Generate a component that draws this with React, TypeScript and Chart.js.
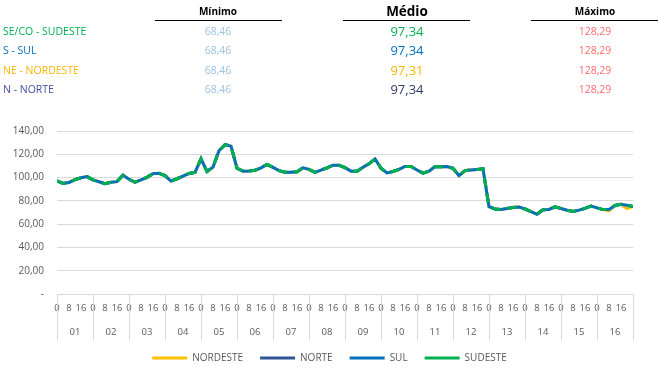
import React, { useEffect, useRef } from 'react';
import { Chart, registerables } from 'chart.js';

Chart.register(...registerables);

// ---- Data ----
const DAYS = ['01', '02', '03', '04', '05', '06', '07', '08', '09', '10', '11', '12', '13', '14', '15', '16'];
const HOUR_LABELS = [0, 8, 16];
const HOURS_PER_DAY = 24;
const STEP_HOURS = 4;

const SUDESTE = [
  97.2, 95.0, 95.8, 98.2, 99.8, 100.8,
  98.0, 96.4, 94.8, 96.0, 96.5, 102.0,
  98.5, 96.0, 98.0, 100.2, 103.4, 103.7,
  101.7, 97.0, 99.0, 101.2, 103.5, 104.5,
  116.0, 105.2, 109.0, 123.0, 128.29, 127.0,
  108.0, 105.5, 105.7, 106.3, 108.4, 111.3,
  108.8, 106.0, 104.6, 104.6, 105.0, 108.4,
  107.0, 104.5, 106.4, 108.3, 110.6, 110.5,
  108.5, 105.5, 105.5, 108.8, 111.8, 116.0,
  108.0, 104.0, 105.2, 107.0, 109.5, 109.5,
  106.5, 103.8, 105.5, 109.5, 109.3, 109.5,
  108.0, 101.7, 106.0, 106.6, 107.0, 107.5,
  75.0, 73.0, 72.5, 73.5, 74.2, 74.8,
  73.0, 70.8, 68.46, 72.3, 72.6, 74.8,
  73.4, 72.0, 70.8, 72.0, 73.5, 75.5,
  74.0, 72.5, 72.5, 76.0, 77.0, 76.3,
  75.2,
];
const SUL = [
  97.2, 95.0, 95.8, 98.2, 99.8, 100.8,
  98.0, 96.4, 94.8, 96.0, 96.5, 102.0,
  98.5, 96.0, 98.0, 100.2, 103.4, 103.7,
  101.7, 97.0, 99.0, 101.2, 103.5, 104.5,
  116.0, 105.2, 109.0, 123.0, 128.29, 127.0,
  108.0, 105.5, 105.7, 106.3, 108.4, 111.3,
  108.8, 106.0, 104.6, 104.6, 105.0, 108.4,
  107.0, 104.5, 106.4, 108.3, 110.6, 110.5,
  108.5, 105.5, 105.5, 108.8, 111.8, 116.0,
  108.0, 104.0, 105.2, 107.0, 109.5, 109.5,
  106.5, 103.8, 105.5, 109.5, 109.3, 109.5,
  108.0, 101.7, 106.0, 106.6, 107.0, 107.5,
  75.0, 73.0, 72.5, 73.5, 74.2, 74.8,
  73.0, 70.8, 68.46, 72.3, 72.6, 74.8,
  73.4, 72.0, 70.8, 72.0, 73.5, 75.5,
  74.0, 72.5, 72.5, 76.0, 77.0, 76.3,
  75.2,
];
const NORTE = [
  97.2, 95.0, 95.8, 98.2, 99.8, 100.8,
  98.0, 96.4, 94.8, 96.0, 96.5, 102.0,
  98.5, 96.0, 98.0, 100.2, 103.4, 103.7,
  101.7, 97.0, 99.0, 101.2, 103.5, 104.5,
  116.0, 105.2, 109.0, 123.0, 128.29, 127.0,
  108.0, 105.5, 105.7, 106.3, 108.4, 111.3,
  108.8, 106.0, 104.6, 104.6, 105.0, 108.4,
  107.0, 104.5, 106.4, 108.3, 110.6, 110.5,
  108.5, 105.5, 105.5, 108.8, 111.8, 116.0,
  108.0, 104.0, 105.2, 107.0, 109.5, 109.5,
  106.5, 103.8, 105.5, 109.5, 109.3, 109.5,
  108.0, 101.7, 106.0, 106.6, 107.0, 107.5,
  75.0, 73.0, 72.5, 73.5, 74.2, 74.8,
  73.0, 70.8, 68.46, 72.3, 72.6, 74.8,
  73.4, 72.0, 70.8, 72.0, 73.5, 75.5,
  74.0, 72.5, 72.5, 76.0, 77.0, 76.3,
  75.2,
];
const NORDESTE = [
  97.2, 95.0, 95.8, 98.2, 99.8, 100.8,
  98.0, 96.4, 94.8, 96.0, 96.5, 102.0,
  98.5, 96.0, 98.0, 100.2, 103.4, 103.7,
  101.7, 97.0, 99.0, 101.2, 103.5, 104.5,
  116.0, 105.2, 109.0, 123.0, 128.29, 127.0,
  108.0, 105.5, 105.7, 106.3, 108.4, 111.3,
  108.8, 106.0, 104.6, 104.6, 105.0, 108.4,
  107.0, 104.5, 106.4, 108.3, 110.6, 110.5,
  108.5, 105.5, 105.5, 108.8, 111.8, 116.0,
  108.0, 104.0, 105.2, 107.0, 109.5, 109.5,
  106.5, 103.8, 105.5, 109.5, 109.3, 109.5,
  108.0, 101.7, 106.0, 106.6, 107.0, 107.5,
  75.0, 73.0, 72.5, 73.5, 74.2, 74.8,
  73.0, 70.8, 68.46, 72.3, 72.6, 74.8,
  73.4, 72.0, 70.8, 72.0, 73.5, 75.5,
  74.0, 72.5, 71.4, 76.0, 77.0, 73.4,
  75.2,
];

// Summary table (as printed above the chart)
const REGION_LABELS = ['SE/CO - SUDESTE', 'S - SUL', 'NE - NORDESTE', 'N - NORTE'];
const MIN_VALUES = ['68,46', '68,46', '68,46', '68,46'];
const MEAN_VALUES = ['97,34', '97,34', '97,31', '97,34'];
const MAX_VALUES = ['128,29', '128,29', '128,29', '128,29'];
const TABLE_HEADERS = ['Mínimo', 'Médio', 'Máximo'];

// ---- Styles ----
const FONT = '"Open Sans", "Noto Sans", sans-serif';
const AXIS_TEXT = '#595959';
const GRID = '#D9D9D9';
const REGION_COLORS = ['#00B050', '#0070C0', '#F5B700', '#44509E'];
const MEAN_COLORS = ['#00B050', '#0070C0', '#F5B700', '#2F3B66'];
const MIN_COLOR = '#9DC3E6';
const MAX_COLOR = '#FF6B6B';
const TABLE_ROWS_Y = [31, 49.5, 69.5, 88.8];
const COLUMN_CENTERS = [218, 407, 595];
const UNDERLINES = [[155, 282], [343, 470], [531, 658]];

const toPoints = (values: number[]) => values.map((v, i) => ({ x: i * STEP_HOURS, y: v }));
const fmt = (v: number) => (v === 0 ? '-' : v.toFixed(2).replace('.', ','));

// Day group labels and separators under the hour ticks (multi-level category look)
const dayGroups = {
  id: 'dayGroups',
  afterDraw(chart: any) {
    const { ctx, chartArea, scales } = chart;
    const xs = scales.x;
    ctx.save();
    ctx.strokeStyle = GRID;
    ctx.lineWidth = 1;
    for (let i = 0; i <= DAYS.length; i++) {
      const px = Math.round(xs.getPixelForValue(i * HOURS_PER_DAY)) + 0.5;
      ctx.beginPath();
      ctx.moveTo(px, chartArea.bottom);
      ctx.lineTo(px, chartArea.bottom + 46);
      ctx.stroke();
    }
    ctx.fillStyle = AXIS_TEXT;
    ctx.font = `9.5px ${FONT}`;
    ctx.textAlign = 'center';
    ctx.textBaseline = 'middle';
    DAYS.forEach((d, i) => {
      const cx = xs.getPixelForValue(i * HOURS_PER_DAY + HOURS_PER_DAY / 2);
      ctx.fillText(d, cx, chartArea.bottom + 38);
    });
    ctx.restore();
  },
};

export default function App() {
  const canvasRef = useRef<HTMLCanvasElement | null>(null);

  useEffect(() => {
    if (!canvasRef.current) return;
    const maxHour = DAYS.length * HOURS_PER_DAY;
    const hourTicks = DAYS.flatMap((_, d) => HOUR_LABELS.map((h) => d * HOURS_PER_DAY + h));

    const base = { pointRadius: 0, pointHoverRadius: 0, borderWidth: 3, tension: 0, fill: false, borderCapStyle: 'butt' as const };

    const chart = new Chart(canvasRef.current, {
      type: 'line',
      data: {
        datasets: [
          { ...base, label: 'NORDESTE', data: toPoints(NORDESTE), borderColor: '#FFC000', backgroundColor: '#FFC000', order: 4 },
          { ...base, label: 'NORTE', data: toPoints(NORTE), borderColor: '#2F5597', backgroundColor: '#2F5597', borderDash: [9, 7], order: 3 },
          { ...base, label: 'SUL', data: toPoints(SUL), borderColor: '#0070C0', backgroundColor: '#0070C0', order: 2 },
          { ...base, label: 'SUDESTE', data: toPoints(SUDESTE), borderColor: '#00B050', backgroundColor: '#00B050', borderDash: [9, 7], order: 1 },
        ],
      },
      options: {
        animation: false,
        responsive: false,
        devicePixelRatio: 1,
        events: [],
        layout: { padding: { top: 131, left: 0, right: 0, bottom: 1 } },
        font: { family: FONT },
        scales: {
          x: {
            type: 'linear',
            min: 0,
            max: maxHour,
            position: 'bottom',
            afterBuildTicks: (s: any) => { s.ticks = hourTicks.map((v) => ({ value: v })); },
            afterFit: (s: any) => { s.height = 42; },
            ticks: {
              autoSkip: false,
              maxRotation: 0,
              padding: 9,
              color: AXIS_TEXT,
              font: { family: FONT, size: 9.5 },
              callback: (v: any) => String(Number(v) % HOURS_PER_DAY),
            },
            grid: { display: false, drawTicks: false },
            border: { display: false },
          },
          y: {
            min: 0,
            max: 140,
            afterFit: (s: any) => { s.width = 57; },
            ticks: {
              stepSize: 20,
              padding: 13,
              color: AXIS_TEXT,
              font: { family: FONT, size: 10 },
              callback: (v: any) => fmt(Number(v)),
            },
            grid: { color: GRID, drawTicks: false },
            border: { display: false },
          },
          yRight: {
            position: 'right',
            afterFit: (s: any) => { s.width = 26; },
            ticks: { display: false },
            grid: { display: false, drawTicks: false },
            border: { display: false },
          },
        },
        plugins: {
          tooltip: { enabled: false },
          legend: {
            position: 'bottom',
            labels: {
              usePointStyle: true,
              pointStyle: 'line',
              pointStyleWidth: 35,
              boxHeight: 10,
              padding: 17,
              color: AXIS_TEXT,
              font: { family: FONT, size: 10 },
              sort: (a: any, b: any) => a.datasetIndex - b.datasetIndex,
            },
          },
        },
      } as any,
      plugins: [dayGroups],
    });
    return () => chart.destroy();
  }, []);

  return (
    <div style={{ position: 'absolute', left: 0, top: 0, width: 659, height: 374, background: '#fff', overflow: 'hidden', fontFamily: FONT }}>
      <canvas ref={canvasRef} width={659} height={374} style={{ position: 'absolute', left: 0, top: 0, width: 659, height: 374 }} />
      {TABLE_HEADERS.map((h, i) => (
        <div key={h} style={{ position: 'absolute', left: COLUMN_CENTERS[i] - 60, width: 120, top: i === 1 ? 3 : 4, textAlign: 'center', fontWeight: 700, fontSize: i === 1 ? 13.5 : 10, lineHeight: i === 1 ? '17px' : '14px', color: '#000' }}>{h}</div>
      ))}
      {UNDERLINES.map(([a, b], i) => (
        <div key={'u' + i} style={{ position: 'absolute', left: a, width: b - a, top: 20, height: 1, background: '#000' }} />
      ))}
      {REGION_LABELS.map((r, i) => (
        <div key={r} style={{ position: 'absolute', left: 3, top: TABLE_ROWS_Y[i] - 8, lineHeight: '16px', fontSize: 10.5, color: REGION_COLORS[i], whiteSpace: 'nowrap' }}>{r}</div>
      ))}
      {MIN_VALUES.map((v, i) => (
        <div key={'min' + i} style={{ position: 'absolute', left: COLUMN_CENTERS[0] - 40, width: 80, textAlign: 'center', top: TABLE_ROWS_Y[i] - 8, lineHeight: '16px', fontSize: 10.5, color: MIN_COLOR }}>{v}</div>
      ))}
      {MEAN_VALUES.map((v, i) => (
        <div key={'mean' + i} style={{ position: 'absolute', left: COLUMN_CENTERS[1] - 40, width: 80, textAlign: 'center', top: TABLE_ROWS_Y[i] - 9, lineHeight: '18px', fontSize: 13, color: MEAN_COLORS[i] }}>{v}</div>
      ))}
      {MAX_VALUES.map((v, i) => (
        <div key={'max' + i} style={{ position: 'absolute', left: COLUMN_CENTERS[2] - 40, width: 80, textAlign: 'center', top: TABLE_ROWS_Y[i] - 8, lineHeight: '16px', fontSize: 10.5, color: MAX_COLOR }}>{v}</div>
      ))}
    </div>
  );
}
